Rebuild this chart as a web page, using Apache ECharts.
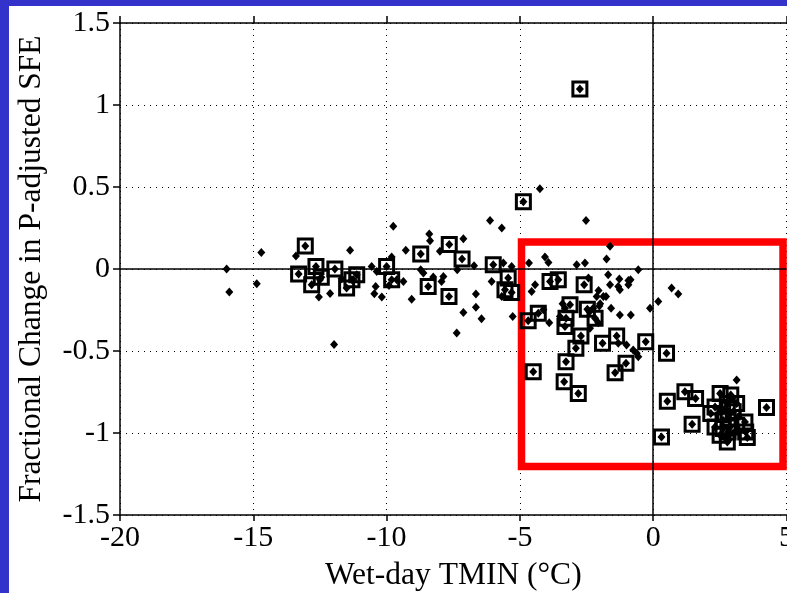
<!DOCTYPE html>
<html><head><meta charset="utf-8">
<script src="https://cdn.jsdelivr.net/npm/echarts@6/dist/echarts.min.js"></script>
<style>
html,body{margin:0;padding:0;background:#3333cc;width:787px;height:593px;overflow:hidden}
#panel{position:absolute;left:9px;top:6px;width:778px;height:587px;background:#fff}
#chart{position:absolute;left:0;top:0;width:787px;height:593px}
</style></head><body><div id="panel"></div><div id="chart"></div>
<script>
// Axis ranges
const xRange = [-20, 5], xStep = 5;
const yRange = [-1.5, 1.5], yStep = 0.5;
const xTitle = 'Wet-day TMIN (°C)';
const yTitle = 'Fractional Change in P-adjusted SFE';

// Points marked with an open square (each also has a diamond dot)
const boxedPoints = [
  [-13.05,0.14],[-13.3,-0.03],[-12.65,0.016],[-12.81,-0.096],[-12.45,-0.05],
  [-11.94,0.0],[-11.5,-0.116],[-11.12,-0.035],[-11.3,-0.065],[-10.0,0.016],
  [-9.81,-0.065],[-8.72,0.092],[-8.44,-0.106],[-7.65,0.149],[-7.17,0.061],
  [-7.66,-0.168],[-6.0,0.026],[-5.44,-0.055],[-5.56,-0.127],[-5.31,-0.143],
  [-4.87,0.41],[-2.75,1.097],[-3.87,-0.076],[-3.56,-0.065],[-2.59,-0.096],
  [-4.69,-0.315],[-4.31,-0.27],[-3.12,-0.218],[-2.47,-0.245],[-2.18,-0.3],
  [-3.27,-0.3],[-3.31,-0.351],[-2.71,-0.408],[-1.9,-0.453],[-1.37,-0.408],
  [-0.28,-0.443],[-2.9,-0.483],[-3.27,-0.565],[-1.02,-0.575],[-1.43,-0.633],
  [-4.5,-0.627],[-3.34,-0.688],[-2.81,-0.759],[0.5,-0.514],[0.53,-0.807],
  [1.19,-0.749],[1.59,-0.79],[1.46,-0.947],[0.31,-1.024],[4.25,-0.845],
  [2.51,-0.759],[2.91,-0.769],[2.78,-0.82],[2.32,-0.841],[2.16,-0.881],
  [2.32,-0.963],[2.51,-1.014],[2.78,-1.055],[2.81,-0.994],[3.13,-0.953],
  [3.44,-0.933],[3.47,-0.994],[3.53,-1.028],[2.81,-0.912],[3.0,-0.871],
  [2.62,-0.922],[3.13,-0.82],[2.88,-0.963],[2.62,-0.973]
];

// Points shown only as diamond dots
const plainPoints = [
  [-16,0.0],[-15.9,-0.14],[-14.7,0.1],[-14.87,-0.09],[-13.4,0.08],
  [-12.54,-0.17],[-12.12,-0.15],[-11.37,0.114],[-11.97,-0.46],[-10.56,0.016],
  [-10.37,-0.015],[-9.75,0.26],[-9.81,0.073],[-10.41,-0.106],[-10.46,-0.151],
  [-10.18,-0.171],[-9.91,-0.1],[-12.5,-0.065],[-11.69,-0.06],[-11.25,-0.065],
  [-4.25,0.49],[-6.12,0.296],[-5.68,0.25],[-8.4,0.214],[-8.37,0.173],
  [-7.12,0.184],[-9.28,0.114],[-8.0,0.108],[-6.72,0.02],[-8.72,-0.004],
  [-8.62,-0.024],[-7.87,-0.045],[-7.94,-0.076],[-8.25,-0.049],[-9.06,-0.184],
  [-7.35,-0.004],[-6.65,-0.153],[-6.65,-0.233],[-7.12,-0.265],[-6.44,-0.304],
  [-7.37,-0.39],[-6.06,-0.076],[-5.31,0.016],[-5.27,-0.29],[-4.66,0.037],
  [-4.06,0.073],[-3.93,0.04],[-4.43,-0.096],[-4.56,-0.137],[-3.9,-0.327],
  [-9.37,-0.076],[-9.62,-0.065],[-5.62,0.037],[-5.68,-0.168],
  [-1.62,0.138],[-2.87,0.026],[-2.56,0.037],[-1.75,0.061],[-0.56,-0.004],
  [-1.69,-0.035],[-1.27,-0.061],[-0.93,-0.07],[-0.85,-0.065],[-1.31,-0.106],
  [-1.62,-0.096],[-1.25,-0.127],[-0.93,-0.096],[-2.05,-0.131],[-2.43,-0.055],
  [-2.12,-0.168],[-1.87,-0.168],[-1.77,-0.168],[0.19,-0.198],[-0.12,-0.239],
  [-1.58,-0.239],[-1.25,-0.28],[-0.84,-0.28],[-2.37,-0.361],[-1.31,-0.453],
  [-1.0,-0.463],[-0.75,-0.494],[-0.62,-0.514],[-0.56,-0.535],[0.69,-0.116],
  [0.94,-0.153],[-2.52,0.296],[-1.99,-0.212],[-3.4,-0.212],[-4.12,-0.249],
  [-2.25,-0.239],[-2.02,-0.225],[-2.39,-0.26],[-2.06,-0.327],[3.13,-0.677],
  [-3.5,-0.29],[-3.31,-0.239],
  [2.7,-0.85],[2.9,-0.88],[3.0,-1.0],[2.7,-1.03],[2.95,-0.79],[2.85,-1.04],[3.2,-0.9]
];

// Highlight rectangle (data coordinates: top-left, bottom-right)
const highlightBox = [[-4.94, 0.164], [4.87, -1.204]];

const font = 'Liberation Serif, Times New Roman, serif';
const axisLineStyle = {color:'#000', width:1.5};
const dotted = {color:'#000', width:1, type:[1,5]};

const chart = echarts.init(document.getElementById('chart'), null, {renderer:'canvas'});
chart.setOption({
  animation: false,
  grid: {left:120, right:0.5, top:23, bottom:78, containLabel:false, outerBoundsMode:'none'},
  xAxis: [{
    type:'value', min:xRange[0], max:xRange[1], interval:xStep, position:'bottom',
    axisLine:{show:true, onZero:false, lineStyle:axisLineStyle},
    axisTick:{show:true, inside:false, length:6, lineStyle:axisLineStyle},
    axisLabel:{color:'#000', fontFamily:font, fontSize:30, margin:8},
    splitLine:{show:true, lineStyle:dotted},
    name:xTitle, nameLocation:'middle', nameGap:45,
    nameTextStyle:{color:'#000', fontFamily:font, fontSize:31.5}
  },{
    type:'value', min:xRange[0], max:xRange[1], interval:xStep, position:'top',
    axisLine:{show:true, onZero:false, lineStyle:axisLineStyle},
    axisTick:{show:true, inside:false, length:7, lineStyle:axisLineStyle},
    axisLabel:{show:false}, splitLine:{show:false}
  }],
  yAxis: [{
    type:'value', min:yRange[0], max:yRange[1], interval:yStep, position:'left',
    axisLine:{show:true, onZero:false, lineStyle:axisLineStyle},
    axisTick:{show:true, inside:false, length:7, lineStyle:axisLineStyle},
    axisLabel:{color:'#000', fontFamily:font, fontSize:30, margin:10},
    splitLine:{show:true, lineStyle:dotted},
    name:yTitle, nameLocation:'middle', nameGap:72,
    nameTextStyle:{color:'#000', fontFamily:font, fontSize:31.5}
  }],
  series: [{
    type:'scatter', xAxisIndex:0, yAxisIndex:0,
    symbol:'rect', symbolSize:14,
    itemStyle:{color:'rgba(0,0,0,0)', borderColor:'#000', borderWidth:3, opacity:1},
    data: boxedPoints,
    markArea:{
      silent:true,
      itemStyle:{color:'rgba(0,0,0,0)', borderColor:'#ff0000', borderWidth:7.5},
      data:[[{coord:highlightBox[0]},{coord:highlightBox[1]}]]
    },
    z:3
  },{
    type:'scatter', xAxisIndex:0, yAxisIndex:0,
    symbol:'diamond', symbolSize:[8,9],
    itemStyle:{color:'#000', opacity:1},
    data: plainPoints.concat(boxedPoints),
    markLine:{
      silent:true, symbol:['none','none'], label:{show:false},
      lineStyle:{color:'#000', type:'solid', width:1.5},
      data:[{xAxis:0},{yAxis:0}]
    },
    z:4
  }]
});
</script></body></html>
